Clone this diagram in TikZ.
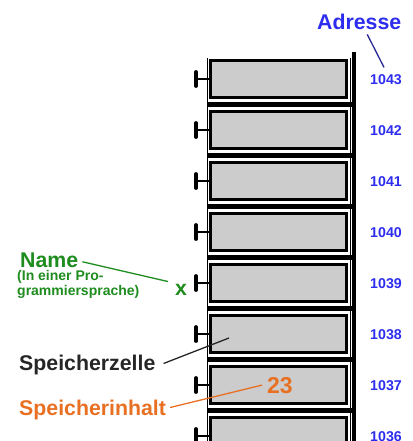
\documentclass[tikz,border=0pt]{standalone}
\usepackage{fontspec}
\setmainfont{Liberation Sans}
\definecolor{adrblue}{RGB}{45,45,240}
\definecolor{adrline}{RGB}{40,40,150}
\definecolor{namegreen}{RGB}{30,140,30}
\definecolor{inhorange}{RGB}{232,112,35}
\tikzstyle{cell}=[rectangle,draw=black,line width=3pt,fill=black!20,minimum width=136pt,minimum height=37pt,inner sep=0pt]
\tikzstyle{adr}=[text=adrblue,font=\fontsize{14.2}{16}\selectfont\bfseries,inner sep=0pt,anchor=base]
\tikzstyle{biglabel}=[font=\fontsize{21.3}{25}\selectfont\bfseries,inner sep=0pt,anchor=base west]
\tikzstyle{separator}=[draw=black,line width=4.5pt]
\tikzstyle{frame}=[draw=black,line width=0.8pt]
\tikzstyle{handle}=[draw=black,line width=2.8pt]
\tikzstyle{knob}=[draw=black,line width=3.8pt,line cap=round]
\tikzstyle{pointer}=[line width=1.3pt]
\begin{document}
\begin{tikzpicture}[x=1pt,y=-1pt]
                    \useasboundingbox (0,0) rectangle (412,441);
                    \clip (0,0) rectangle (412,441);

                    % cells with address and handle
                    \draw [frame] (207,58) -- (207,441);
                    \draw [frame] (350.5,58) -- (350.5,441);
                    \foreach \i in {0,...,7} {
                        \pgfmathsetmacro\c{79+51*\i}
                        \pgfmathtruncatemacro\a{1043-\i}
                        \node (c\a) at (278.5,\c) [cell] {};
                        \node (a\a) at (386,\c+5.5) [adr] {\a};
                        \draw [handle] (210,\c) -- (196,\c);
                        \draw [knob] (196,\c-7) -- (196,\c+7);
                    }
                    \foreach \i in {0,...,6} {
                        \pgfmathsetmacro\s{79+51*\i+25.5}
                        \draw [separator] (207,\s) -- (354,\s);
                    }
                    \draw [line width=4.5pt] (354,52) -- (354,441);

                    % labels
                    \node (adresse) at (317,30) [biglabel,text=adrblue] {Adresse};
                    \node (name) at (20,267) [biglabel,text=namegreen] {Name};
                    \node (namenote) at (17,295) [anchor=base west,align=left,inner sep=0pt,text=namegreen,font=\fontsize{14}{14.5}\selectfont\bfseries] {(In einer Pro-\\grammiersprache)};
                    \node (x) at (175,295) [biglabel,text=namegreen] {x};
                    \node (zelle) at (19,370) [biglabel,text=black!85] {Speicherzelle};
                    \node (inhalt) at (19,415) [biglabel,text=inhorange] {Speicherinhalt};
                    \node (n23) at (267,393) [biglabel,text=inhorange,font=\fontsize{23}{27}\selectfont\bfseries] {23};
                    \coordinate (zellpt) at (229,338);

                    \draw [pointer,adrline] ([xshift=8pt,yshift=-4pt]adresse.south) -- ([xshift=-2pt,yshift=7pt]a1043.north);
                    \draw [pointer,namegreen] ([xshift=4pt,yshift=-2pt]name.east) -- ([xshift=-7pt,yshift=2pt]x.north west);
                    \draw [pointer,black!85] ([xshift=8pt,yshift=1pt]zelle.east) -- (zellpt);
                    \draw [pointer,inhorange] ([xshift=4pt,yshift=2pt]inhalt.east) -- ([xshift=-5pt]n23.west);
                \end{tikzpicture}
\end{document}
